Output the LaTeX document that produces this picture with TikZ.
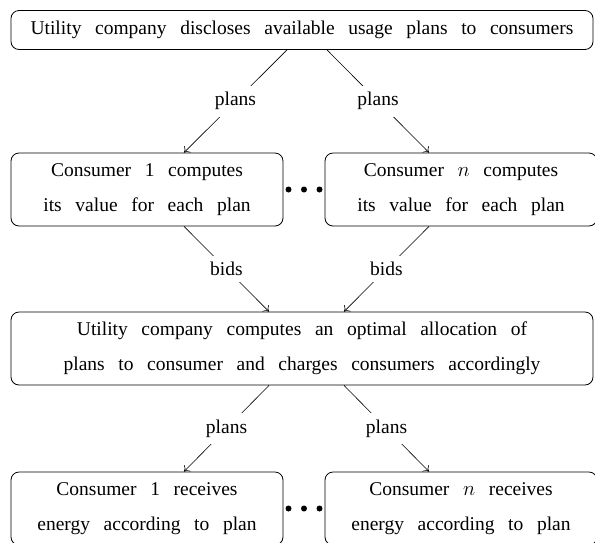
\documentclass[tikz,border=0pt]{standalone}
\usepackage{fontspec}
\setmainfont{Liberation Serif}[WordSpace=2.8]
\usetikzlibrary{arrows.meta,calc}

\begin{document}
\begin{tikzpicture}[x=1pt,y=-1pt,
  box/.style={draw,rounded corners=8pt,line width=0.8pt,inner sep=0pt,
    align=center,font=\fontsize{19.5}{35}\selectfont},
  wide/.style={box,minimum width=582pt},
  half/.style={box,minimum width=272pt,minimum height=73pt},
  flow/.style={-{To[length=5pt,width=9pt]},line width=0.6pt},
  lbl/.style={midway,fill=white,inner sep=6.5pt,font=\fontsize{19.5}{24}\selectfont}]
\useasboundingbox (0,0) rectangle (595,542);

% boxes of the process
\node[wide,minimum height=39pt] (disclose) at (302,30)
  {Utility company discloses available usage plans to consumers};
\node[half] (val1) at (147,189.5) {Consumer 1 computes\\its value for each plan};
\node[half] (valn) at (461,189.5) {Consumer $n$ computes\\its value for each plan};
\node[wide,minimum height=73pt] (alloc) at (302,348.5)
  {Utility company computes an optimal allocation of\\plans to consumer and charges consumers accordingly};
\node[half] (get1) at (147,508.5) {Consumer 1 receives\\energy according to plan};
\node[half] (getn) at (461,508.5) {Consumer $n$ receives\\energy according to plan};

% ellipsis between the consumer boxes
\foreach \a/\b in {val1/valn,get1/getn}
  \foreach \d in {-15.5,0,15.5}
    \fill ($($(\a.east)!0.5!(\b.west)$)+(\d,0)$) circle (3pt);

% message flow
\draw[flow] ($(disclose.south)+(-15,0)$) -- node[lbl]{plans} ($(val1.north)+(37,0)$);
\draw[flow] ($(disclose.south)+(25,0)$) -- node[lbl]{plans} ($(valn.north)+(-32,0)$);
\draw[flow] ($(val1.south)+(37,0)$) -- node[lbl]{bids} ($(alloc.north)+(-33,0)$);
\draw[flow] ($(valn.south)+(-32,0)$) -- node[lbl]{bids} ($(alloc.north)+(42,0)$);
\draw[flow] ($(alloc.south)+(-33,0)$) -- node[lbl]{plans} ($(get1.north)+(37,0)$);
\draw[flow] ($(alloc.south)+(42,0)$) -- node[lbl]{plans} ($(getn.north)+(-32,0)$);
\end{tikzpicture}
\end{document}
